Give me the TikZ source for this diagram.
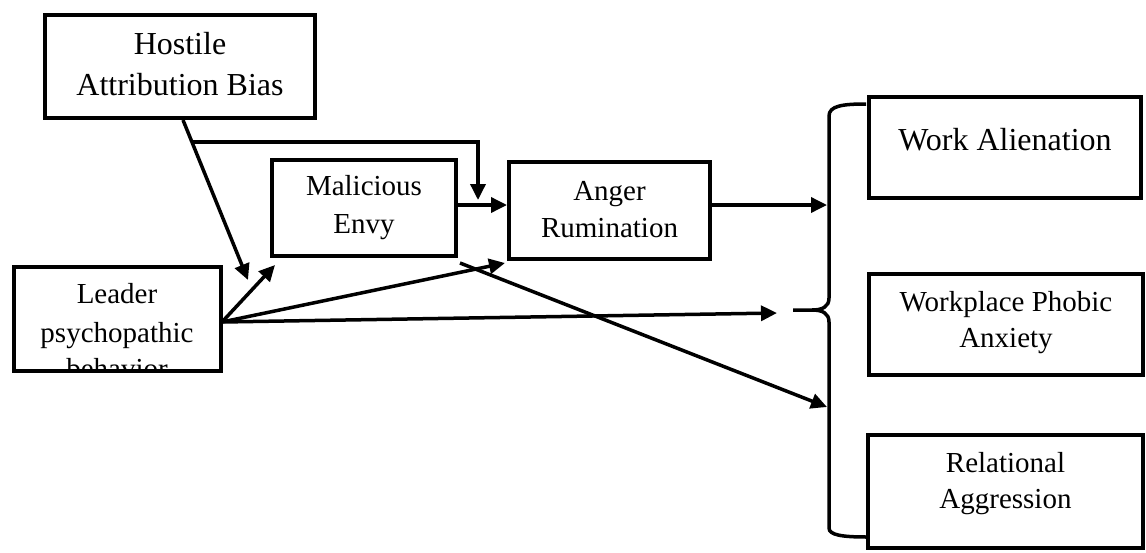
\documentclass[tikz,border=0pt]{standalone}
\usepackage{fontspec}
\setmainfont{Liberation Serif}
\usetikzlibrary{arrows.meta}
\tikzset{
  box/.style={draw, line width=4.5pt, inner sep=0pt, minimum width=#1},
  box/.default=100pt,
  big/.style={font=\fontsize{32}{40}\selectfont, anchor=base, inner sep=0pt},
  txt/.style={font=\fontsize{29}{37}\selectfont, anchor=base, inner sep=0pt},
  conn/.style={line width=3.5pt, -{Triangle[length=16pt,width=15pt]}},
  plain/.style={line width=3.5pt},
}
\begin{document}
\begin{tikzpicture}[x=1pt,y=-1pt]
\useasboundingbox (0,0) rectangle (1146,552);
% boxes
\node[box=270pt, minimum height=103pt] (hab) at (180,66.5) {};
\node[box=184pt, minimum height=96pt] (me) at (364,208) {};
\node[box=201pt, minimum height=97pt] (ar) at (609.5,210.5) {};
\node[box=207pt, minimum height=104pt] (lpb) at (117.5,319) {};
\node[box=272pt, minimum height=101pt] (wa) at (1005,147.5) {};
\node[box=274pt, minimum height=101pt, line width=4pt] (wpa) at (1006,324.5) {};
\node[box=275pt, minimum height=113pt] (ra) at (1005.5,491.5) {};
% texts
\node[big] (hab1) at (180,54) {Hostile};
\node[big] (hab2) at (180,95) {Attribution Bias};
\node[txt] (me1) at (364,195) {Malicious};
\node[txt] (me2) at (364,233) {Envy};
\node[txt] (ar1) at (609.5,200) {Anger};
\node[txt] (ar2) at (609.5,237) {Rumination};
\node[txt] (lp1) at (117,303) {Leader};
\node[txt] (lp2) at (117,342) {psychopathic};
\begin{scope}
\clip (16,269) rectangle (219,369);
\node[txt] (lp3) at (117,378) {behavior};
\end{scope}
\node[big] (wa1) at (1005,150) {Work Alienation};
\node[txt] (wpa1) at (1006,311) {Workplace Phobic};
\node[txt] (wpa2) at (1006,347) {Anxiety};
\node[txt] (ra1) at (1005.5,472) {Relational};
\node[txt] (ra2) at (1005.5,508) {Aggression};
% brace
\coordinate (brtip) at (793,310);
\draw[plain] (866,104) .. controls (842,104) and (829,106) .. (829,116)
  -- (829,298) .. controls (829,307) and (822,310) .. (812,310) -- (brtip);
\draw[plain] (812,310) .. controls (822,310) and (829,313) .. (829,322)
  -- (829,528) .. controls (829,535) and (842,537) .. (867,537);
% connector coordinates
\coordinate (hstart) at (183,120);
\coordinate (hmod) at (248,280);
\coordinate (hsplit) at (192,142);
\coordinate (hcorner) at (478,142);
\coordinate (hmod2) at (478,200);
\coordinate (lpo) at (222,322);
\coordinate (mein) at (275,265);
\coordinate (arin) at (505,263);
\coordinate (brmid) at (777,313);
\coordinate (meout) at (458,205);
\coordinate (arinl) at (507,205);
\coordinate (arout) at (712,205);
\coordinate (brtop) at (827,205);
\coordinate (meout2) at (460,263);
\coordinate (brbot) at (827,407);
% connectors
\draw[conn] (hstart) -- (hmod);
\draw[conn] (hsplit) -- (hcorner) -- (hmod2);
\draw[conn] (lpo) -- (mein);
\draw[conn] (lpo) -- (arin);
\draw[conn] (lpo) -- (brmid);
\draw[conn] (meout) -- (arinl);
\draw[conn] (arout) -- (brtop);
\draw[conn] (meout2) -- (brbot);
\end{tikzpicture}
\end{document}
